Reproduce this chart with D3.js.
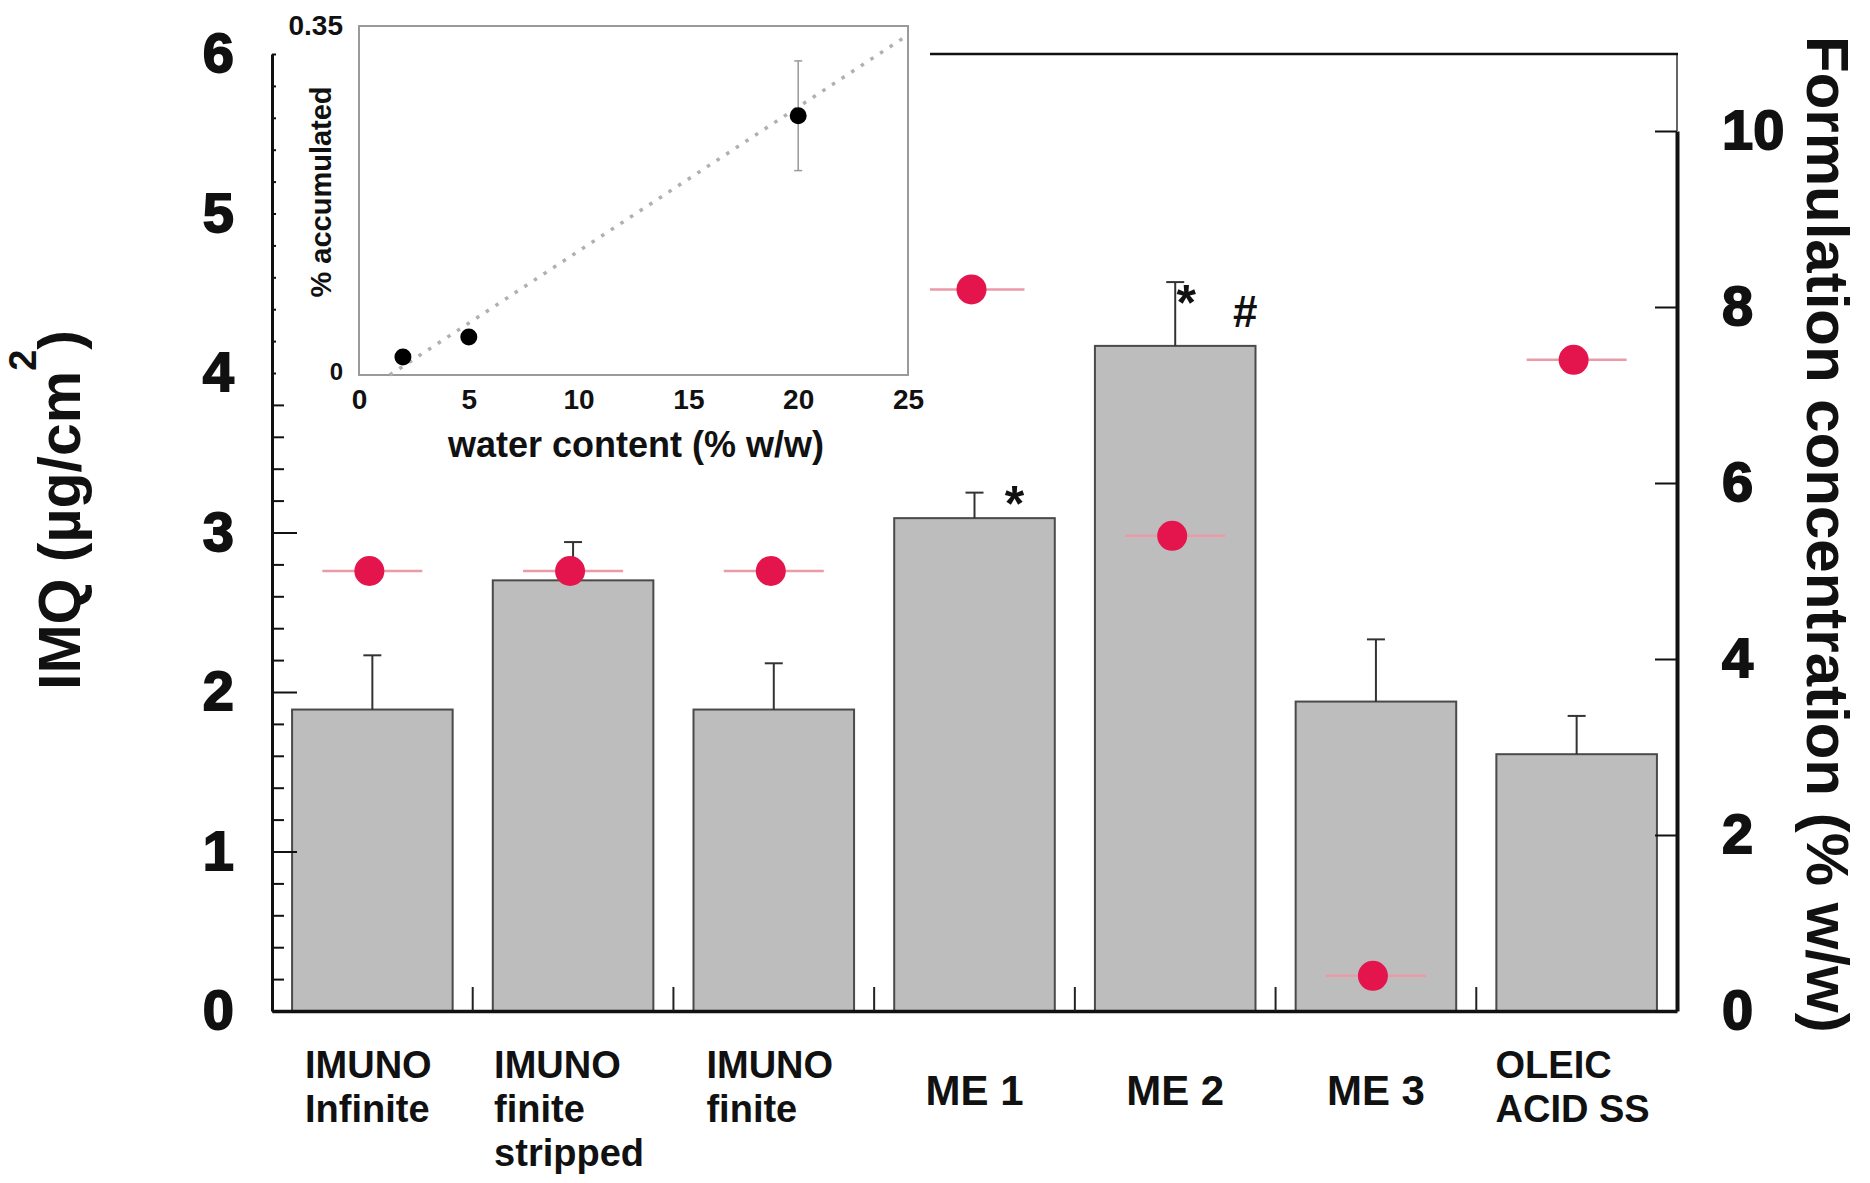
<!DOCTYPE html>
<html>
<head>
<meta charset="utf-8">
<script src="https://cdn.jsdelivr.net/npm/d3@7"></script>
<style>
  body { margin: 0; background: #fff; }
  svg { display: block; font-family: "Liberation Sans", Arial, Helvetica, sans-serif; }
</style>
</head>
<body>
<svg id="chart" width="1870" height="1183"></svg>
<script>
// ---- Main chart: IMQ retained per formulation ----
const categories = ["IMUNO Infinite", "IMUNO finite stripped", "IMUNO finite", "ME 1", "ME 2", "ME 3", "OLEIC ACID SS"];
const categoryLines = [["IMUNO", "Infinite"], ["IMUNO", "finite", "stripped"], ["IMUNO", "finite"], ["ME 1"], ["ME 2"], ["ME 3"], ["OLEIC", "ACID SS"]];
const imqMean = [1.89, 2.70, 1.89, 3.09, 4.17, 1.94, 1.61];      // µg/cm²
const imqSD   = [0.34, 0.24, 0.29, 0.16, 0.40, 0.39, 0.24];
const formulationConc = [5.0, 5.0, 5.0, 8.2, 5.4, 0.4, 7.4];     // % w/w (right axis)
const significance = [[], [], [], ["*"], ["*", "#"], [], []];
const leftTicks = [0, 1, 2, 3, 4, 5, 6];
const rightTicks = [0, 2, 4, 6, 8, 10];

// ---- Inset: accumulation vs. water content ----
const waterContent = [2, 5, 20];
const accumulated = [0.018, 0.038, 0.26];
const accumulatedSD = [0, 0, 0.055];
const trendWater = [1.4, 25];
const trendAccum = [0, 0.341];
const insetXTicks = [0, 5, 10, 15, 20, 25];
const insetYTicks = [0, 0.35];

const svg = d3.select("#chart");
const INK = "#111";

const x = d3.scaleBand().domain(categories).range([272, 1677]).paddingInner(0.2).paddingOuter(0.1);
const yL = d3.scaleLinear().domain([0, 6]).range([1011, 54]);
const yR = d3.scaleLinear().domain([0, 10]).range([1011, 131]);
const cx = d => x(d) + x.bandwidth() / 2;

// bars
svg.append("g").selectAll("rect").data(categories).join("rect")
  .attr("x", d => x(d))
  .attr("y", (d, i) => yL(imqMean[i]))
  .attr("width", x.bandwidth())
  .attr("height", (d, i) => yL(0) - yL(imqMean[i]))
  .attr("fill", "#bdbdbd")
  .attr("stroke", "#4a4a4a")
  .attr("stroke-width", 2);

// error bars (upper only)
const eb = svg.append("g").attr("stroke", "#333").attr("stroke-width", 2);
categories.forEach((c, i) => {
  const top = yL(imqMean[i] + imqSD[i]);
  eb.append("line").attr("x1", cx(c)).attr("x2", cx(c)).attr("y1", yL(imqMean[i])).attr("y2", top);
  eb.append("line").attr("x1", cx(c) - 9).attr("x2", cx(c) + 9).attr("y1", top).attr("y2", top);
});

// significance marks
const marks = svg.append("g").attr("fill", INK).attr("font-weight", "bold").attr("text-anchor", "middle");
categories.forEach((c, i) => {
  const top = yL(imqMean[i] + imqSD[i]);
  significance[i].forEach((m, j) => {
    let dx, dy, fs;
    if (m === "#") { dx = 70; dy = 45; fs = 44; }
    else if (significance[i].length > 1) { dx = 11; dy = 38; fs = 50; }
    else { dx = 40; dy = 28; fs = 50; }
    marks.append("text").attr("x", cx(c) + dx).attr("y", top + dy).attr("font-size", fs).text(m);
  });
});

// formulation concentration markers (right axis)
const pk = svg.append("g");
categories.forEach((c, i) => {
  const yy = yR(formulationConc[i]);
  pk.append("line").attr("x1", cx(c) - 50).attr("x2", cx(c) + 50).attr("y1", yy).attr("y2", yy)
    .attr("stroke", "#eb9aa8").attr("stroke-width", 2.5);
  pk.append("circle").attr("cx", cx(c) - 3).attr("cy", yy).attr("r", 15).attr("fill", "#e3154c");
});

// x axis line and separators
const gx = svg.append("g").attr("transform", `translate(0,${yL(0)})`)
  .call(d3.axisBottom(x).tickSize(0).tickSizeOuter(0).tickFormat(""));
gx.select(".domain").attr("stroke", INK).attr("stroke-width", 3.5);
const half = x.step() * x.paddingInner() / 2;
svg.append("g").selectAll("line").data(categories.slice(1)).join("line")
  .attr("x1", d => x(d) - half).attr("x2", d => x(d) - half)
  .attr("y1", yL(0)).attr("y2", yL(0) - 24)
  .attr("stroke", "#222").attr("stroke-width", 2);

// category labels
categories.forEach((c, i) => {
  const lines = categoryLines[i];
  const g = svg.append("g").attr("fill", INK).attr("font-weight", "bold");
  if (lines.length === 1) {
    g.append("text").attr("x", cx(c)).attr("y", 1105).attr("text-anchor", "middle")
      .attr("font-size", 42).text(lines[0]);
  } else {
    const ts = lines.map((t, k) => g.append("text").attr("y", 1078 + k * 44).attr("font-size", 38).text(t));
    const w = d3.max(ts, t => t.node().getComputedTextLength());
    ts.forEach(t => t.attr("x", cx(c) - w / 2 - 4));
  }
});

// left axis (major + minor)
const gl = svg.append("g").attr("transform", "translate(272,0)")
  .call(d3.axisLeft(yL).tickValues(leftTicks).tickSizeInner(-25).tickSizeOuter(0).tickPadding(38).tickFormat(d3.format("d")));
gl.select(".domain").attr("stroke", INK).attr("stroke-width", 3);
gl.selectAll(".tick line").attr("stroke", INK).attr("stroke-width", 2);
gl.selectAll(".tick text").attr("font-size", 56).attr("font-weight", "bold").attr("fill", INK)
  .attr("stroke", INK).attr("stroke-width", 1.8).attr("font-family", "Liberation Sans, Arial, sans-serif");
const minor = d3.range(0, 31).filter(k => k % 5 !== 0).map(k => k / 5);
const glm = svg.append("g").attr("transform", "translate(272,0)")
  .call(d3.axisLeft(yL).tickValues(minor).tickSizeInner(-12).tickSizeOuter(0).tickFormat(""));
glm.select(".domain").remove();
glm.selectAll(".tick line").attr("stroke", INK).attr("stroke-width", 2);

// right axis
const gr = svg.append("g").attr("transform", "translate(1677,0)")
  .call(d3.axisRight(yR).tickValues(rightTicks).tickSizeInner(-22).tickSizeOuter(0).tickPadding(45).tickFormat(d3.format("d")));
gr.select(".domain").attr("stroke", INK).attr("stroke-width", 4);
gr.selectAll(".tick line").attr("stroke", INK).attr("stroke-width", 2);
gr.selectAll(".tick text").attr("font-size", 56).attr("font-weight", "bold").attr("fill", INK)
  .attr("stroke", INK).attr("stroke-width", 1.8).attr("font-family", "Liberation Sans, Arial, sans-serif");

// frame: thin right extension and top border
svg.append("line").attr("x1", 1677).attr("x2", 1677).attr("y1", yR(10)).attr("y2", yL(6))
  .attr("stroke", "#333").attr("stroke-width", 1.5);
svg.append("line").attr("x1", 900).attr("x2", 1678).attr("y1", yL(6)).attr("y2", yL(6))
  .attr("stroke", INK).attr("stroke-width", 2.5);

// axis titles
const lt = svg.append("text").attr("transform", "translate(80,690) rotate(-90)")
  .attr("font-size", 59).attr("font-weight", "bold").attr("fill", INK);
lt.append("tspan").text("IMQ (µg/cm");
lt.append("tspan").attr("font-size", 38).attr("dy", -44).text("2");
lt.append("tspan").attr("dy", 44).text(")");

svg.append("text").attr("transform", "translate(1807,36) rotate(90)")
  .attr("font-size", 60).attr("font-weight", "bold").attr("fill", INK)
  .text("Formulation concentration (% w/w)");

// ---- inset ----
const ix = d3.scaleLinear().domain([0, 25]).range([359, 908]);
const iy = d3.scaleLinear().domain([0, 0.35]).range([375, 26]);
const inset = svg.append("g");
inset.append("rect").attr("x", 276).attr("y", 0).attr("width", 654).attr("height", 388).attr("fill", "#fff");
inset.append("rect").attr("x", ix(0)).attr("y", iy(0.35)).attr("width", ix(25) - ix(0)).attr("height", iy(0) - iy(0.35))
  .attr("fill", "none").attr("stroke", "#9a9a9a").attr("stroke-width", 2);

inset.append("path")
  .datum(trendWater.map((w, i) => [w, trendAccum[i]]))
  .attr("d", d3.line().x(d => ix(d[0])).y(d => iy(d[1])))
  .attr("fill", "none").attr("stroke", "#b0b0b0").attr("stroke-width", 3.5).attr("stroke-dasharray", "3.5 8");

waterContent.forEach((w, i) => {
  if (accumulatedSD[i] > 0) {
    const y1 = iy(accumulated[i] - accumulatedSD[i]), y2 = iy(accumulated[i] + accumulatedSD[i]);
    inset.append("line").attr("x1", ix(w)).attr("x2", ix(w)).attr("y1", y1).attr("y2", y2).attr("stroke", "#999").attr("stroke-width", 1.5);
    [y1, y2].forEach(yy => inset.append("line").attr("x1", ix(w) - 4).attr("x2", ix(w) + 4).attr("y1", yy).attr("y2", yy).attr("stroke", "#999").attr("stroke-width", 1.5));
  }
});
inset.selectAll("circle").data(waterContent).join("circle")
  .attr("cx", d => ix(d)).attr("cy", (d, i) => iy(accumulated[i])).attr("r", 8.5).attr("fill", "#000");

const gix = inset.append("g").attr("transform", `translate(0,${iy(0)})`)
  .call(d3.axisBottom(ix).tickValues(insetXTicks).tickSize(0).tickPadding(14).tickFormat(d3.format("d")));
gix.select(".domain").remove();
gix.selectAll(".tick text").attr("font-size", 28).attr("font-weight", "bold").attr("fill", INK)
  .attr("font-family", "Liberation Sans, Arial, sans-serif");

const giy = inset.append("g").attr("transform", `translate(${ix(0)},0)`)
  .call(d3.axisLeft(iy).tickValues(insetYTicks).tickSize(0).tickPadding(16).tickFormat(d => d === 0 ? "0" : d3.format(".2f")(d)));
giy.select(".domain").remove();
giy.selectAll(".tick text").attr("font-size", 28).attr("font-weight", "bold").attr("fill", INK)
  .attr("font-family", "Liberation Sans, Arial, sans-serif");
giy.selectAll(".tick").filter(d => d === 0).select("text").attr("font-size", 24).attr("dy", "0.2em");

inset.append("text").attr("x", 636).attr("y", 457).attr("text-anchor", "middle")
  .attr("font-size", 36).attr("font-weight", "bold").attr("fill", INK).text("water content (% w/w)");
inset.append("text").attr("transform", "translate(331,192) rotate(-90)").attr("text-anchor", "middle")
  .attr("font-size", 29).attr("font-weight", "bold").attr("fill", INK).text("% accumulated");
</script>
</body>
</html>
